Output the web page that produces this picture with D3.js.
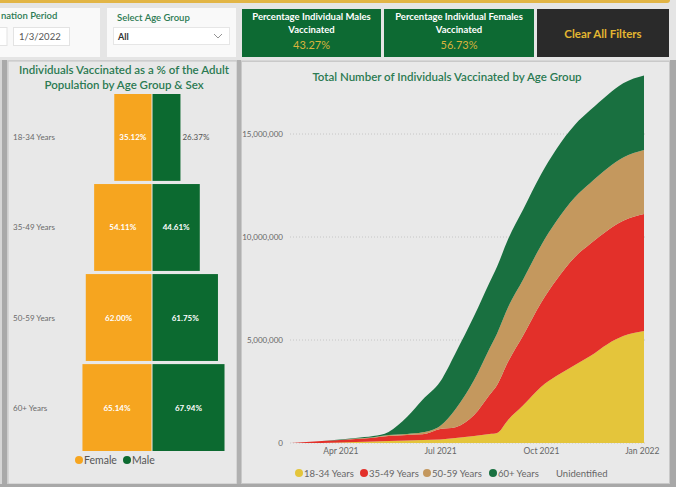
<!DOCTYPE html>
<html><head><meta charset="utf-8">
<script src="https://cdn.jsdelivr.net/npm/d3@7"></script>
<style>
html,body{margin:0;padding:0;background:#e5e5e5;}
svg{display:block;font-family:"Lato","Open Sans",sans-serif;}
</style></head><body>
<svg id="c" width="676" height="487"></svg>
<script>
// ---------- data ----------
const ageGroups = ["18-34 Years", "35-49 Years", "50-59 Years", "60+ Years"];
const femalePct = [35.12, 54.11, 62.00, 65.14];
const malePct = [26.37, 44.61, 61.75, 67.94];
const sexes = ["Female", "Male"];

const kpiTitles = [["Percentage Individual Males", "Vaccinated"], ["Percentage Individual Females", "Vaccinated"]];
const kpiValues = ["43.27%", "56.73%"];

const dates = ["2021-02-15","2021-03-01","2021-03-15","2021-04-01","2021-04-15","2021-05-01","2021-05-15",
  "2021-06-01","2021-06-15","2021-07-01","2021-07-15","2021-08-01","2021-08-15","2021-08-22","2021-09-01",
  "2021-09-15","2021-10-01","2021-10-15","2021-11-01","2021-11-15","2021-12-01","2021-12-15","2022-01-03"];
const vac18_34 = [0,0,0,24000,50000,70000,100000,120000,150000,170000,240000,340000,440000,490000,1120000,
  1840000,2720000,3250000,3790000,4220000,4810000,5190000,5440000];
const vac35_49 = [0,50000,100000,120000,150000,190000,240000,270000,270000,510000,530000,1020000,1890000,2330000,2820000,
  3400000,4080000,4660000,5240000,5450000,5520000,5600000,5680000];
const vac50_59 = [0,0,0,0,24000,24000,50000,50000,100000,150000,870000,1700000,2250000,2500000,2650000,
  2720000,2780000,2850000,2900000,2950000,3020000,3070000,3100000];
const vac60plus = [0,0,0,24000,24000,50000,150000,830000,1580000,2140000,2720000,3100000,3200000,3250000,3300000,
  3400000,3450000,3500000,3520000,3540000,3560000,3600000,3620000];
const vacUnidentified = [0,0,0,0,0,0,0,0,0,0,0,0,0,0,0,0,0,0,0,0,0,0,0];
const seriesNames = ["18-34 Years", "35-49 Years", "50-59 Years", "60+ Years", "Unidentified"];
const yTickValues = [0, 5000000, 10000000, 15000000];
const xTickDates = ["2021-04-01", "2021-07-01", "2021-10-01", "2022-01-01"];

// ---------- style ----------
const C = {
  female: "#f6a51f", male: "#0c6a30", title: "#2b7a52",
  y: "#e4c53b", r: "#e3302a", t: "#c4985e", g: "#197040", u: "#d9d9d9",
  kpi: "#0d6a33", gold: "#d9b33c"
};
const svg = d3.select("#c");

// ---------- top strip ----------
svg.append("rect").attr("x", -5).attr("y", -5).attr("width", 675).attr("height", 8).attr("rx", 3).attr("fill", "#e2b545");

// date slicer panel
svg.append("rect").attr("x", -2).attr("y", 8).attr("width", 102).attr("height", 49).attr("fill", "#f9f9f9");
svg.append("text").attr("x", 1).attr("y", 19).attr("font-size", 9.5).attr("fill", C.title).attr("font-weight", 600).text("nation Period");
svg.append("rect").attr("x", -3).attr("y", 27.5).attr("width", 10).attr("height", 18).attr("fill", "#fff").attr("stroke", "#e3e3e3");
svg.append("rect").attr("x", 13.5).attr("y", 27.5).attr("width", 56).attr("height", 18).attr("fill", "#fff").attr("stroke", "#e3e3e3");
svg.append("text").attr("x", 19).attr("y", 40).attr("font-size", 9.5).attr("fill", "#555").text("1/3/2022");

// age group slicer panel
svg.append("rect").attr("x", 107).attr("y", 8).attr("width", 129).attr("height", 49).attr("fill", "#f9f9f9");
svg.append("text").attr("x", 117).attr("y", 21).attr("font-size", 9.5).attr("fill", C.title).attr("font-weight", 600).text("Select Age Group");
svg.append("rect").attr("x", 113.5).attr("y", 27.5).attr("width", 116).attr("height", 17).attr("fill", "#fff").attr("stroke", "#e6e6e6");
svg.append("text").attr("x", 118).attr("y", 40).attr("font-size", 9).attr("font-weight", 700).attr("fill", "#333").text("All");
svg.append("path").attr("d", "M214,34 l4,4 l4,-4").attr("fill", "none").attr("stroke", "#888").attr("stroke-width", 0.9);

// KPI cards
const kpiX = [242, 384];
const kpiW = [139, 150];
kpiTitles.forEach((lines, i) => {
  const g = svg.append("g");
  g.append("rect").attr("x", kpiX[i]).attr("y", 9).attr("width", kpiW[i]).attr("height", 48).attr("fill", C.kpi);
  const cx = kpiX[i] + kpiW[i] / 2;
  lines.forEach((t, j) => g.append("text").attr("x", cx).attr("y", 20 + j * 13).attr("text-anchor", "middle")
    .attr("font-size", 9.5).attr("font-weight", 700).attr("fill", "#fff").text(t));
  g.append("text").attr("x", cx).attr("y", 49).attr("text-anchor", "middle").attr("font-size", 11)
    .attr("fill", C.gold).text(kpiValues[i]);
});
svg.append("rect").attr("x", 537).attr("y", 9).attr("width", 132).attr("height", 48).attr("fill", "#2a2a2a");
svg.append("text").attr("x", 603).attr("y", 38).attr("text-anchor", "middle").attr("font-size", 11.5)
  .attr("font-weight", 700).attr("fill", "#e3b631").text("Clear All Filters");

// ---------- panel frames ----------
svg.append("rect").attr("x", 0).attr("y", 60).attr("width", 676).attr("height", 427).attr("fill", "#d6d6d6");
svg.append("rect").attr("x", 2).attr("y", 60).attr("width", 5).attr("height", 427).attr("fill", "#a9a9a9");
svg.append("rect").attr("x", 8).attr("y", 61).attr("width", 229).attr("height", 423).attr("fill", "#e8e8e8").attr("stroke", "#c4c4c4");
svg.append("rect").attr("x", 237).attr("y", 60).attr("width", 4).attr("height", 427).attr("fill", "#b0b0b0");
svg.append("rect").attr("x", 241.5).attr("y", 61.5).attr("width", 428).attr("height", 422).attr("fill", "#e9e9e9").attr("stroke", "#c9c9c9");
svg.append("rect").attr("x", 670).attr("y", 60).attr("width", 6).attr("height", 427).attr("fill", "#a8a8a8");
svg.append("rect").attr("x", 0).attr("y", 484).attr("width", 676).attr("height", 3).attr("fill", "#a8a8a8");

// ---------- left chart: population pyramid ----------
svg.append("text").attr("x", 124).attr("y", 74).attr("text-anchor", "middle").attr("font-size", 11.5)
  .attr("font-weight", 600).attr("fill", C.title).text("Individuals Vaccinated as a % of the Adult");
svg.append("text").attr("x", 124).attr("y", 89).attr("text-anchor", "middle").attr("font-size", 11.5)
  .attr("font-weight", 600).attr("fill", C.title).text("Population by Age Group & Sex");

const yBand = d3.scaleBand().domain(ageGroups).range([94, 451]).paddingInner(0.035).paddingOuter(0);
const xPct = d3.scaleLinear().domain([0, 100]).range([0, 106]);
const cxL = 151.5;
const pyr = ageGroups.map((a, i) => ({ a, f: femalePct[i], m: malePct[i] }));
const lg = svg.append("g");
lg.selectAll(".fb").data(pyr).join("rect").attr("x", d => cxL - xPct(d.f)).attr("y", d => yBand(d.a))
  .attr("width", d => xPct(d.f)).attr("height", yBand.bandwidth()).attr("fill", C.female);
lg.selectAll(".mb").data(pyr).join("rect").attr("x", cxL + 1).attr("y", d => yBand(d.a))
  .attr("width", d => xPct(d.m)).attr("height", yBand.bandwidth()).attr("fill", C.male);
const fmt = d => d.toFixed(2) + "%";
lg.selectAll(".fl").data(pyr).join("text").attr("x", d => cxL - xPct(d.f) / 2).attr("y", d => yBand(d.a) + yBand.bandwidth() / 2 + 3)
  .attr("text-anchor", "middle").attr("font-size", 8).attr("font-weight", 700).attr("fill", "#fff").text(d => fmt(d.f));
lg.selectAll(".ml").data(pyr).join("text")
  .attr("x", d => xPct(d.m) < 34 ? cxL + 1 + xPct(d.m) + 2 : cxL + 1 + xPct(d.m) / 2)
  .attr("y", d => yBand(d.a) + yBand.bandwidth() / 2 + 3)
  .attr("text-anchor", d => xPct(d.m) < 34 ? "start" : "middle").attr("font-size", 8)
  .attr("font-weight", d => xPct(d.m) < 34 ? 400 : 700)
  .attr("fill", d => xPct(d.m) < 34 ? "#555" : "#fff").text(d => fmt(d.m));
lg.selectAll(".cl").data(pyr).join("text").attr("x", 13).attr("y", d => yBand(d.a) + yBand.bandwidth() / 2 + 3)
  .attr("font-size", 8).attr("fill", "#6a6a6a").text(d => d.a);
// legend
const legL = [{ n: sexes[0], c: C.female, x: 79 }, { n: sexes[1], c: C.male, x: 127 }];
legL.forEach(d => {
  svg.append("circle").attr("cx", d.x).attr("cy", 460).attr("r", 4).attr("fill", d.c);
  svg.append("text").attr("x", d.x + 5).attr("y", 464).attr("font-size", 10.5).attr("fill", "#555").text(d.n);
});

// ---------- right chart: stacked area ----------
svg.append("text").attr("x", 447).attr("y", 81).attr("text-anchor", "middle").attr("font-size", 11.5)
  .attr("font-weight", 600).attr("fill", C.title).text("Total Number of Individuals Vaccinated by Age Group");

const parse = d3.timeParse("%Y-%m-%d");
const rows = dates.map((d, i) => ({
  date: parse(d), "18-34 Years": vac18_34[i], "35-49 Years": vac35_49[i], "50-59 Years": vac50_59[i],
  "60+ Years": vac60plus[i], "Unidentified": vacUnidentified[i]
}));
const x = d3.scaleTime().domain([parse(dates[0]), parse(dates[dates.length - 1])]).range([291, 644]);
const y = d3.scaleLinear().domain([0, 18000000]).range([443, 443 - 18 * 20.6]);
const colors = [C.y, C.r, C.t, C.g, C.u];

// gridlines
svg.append("g").selectAll("line").data(yTickValues).join("line")
  .attr("x1", 290).attr("x2", 646).attr("y1", d => y(d)).attr("y2", d => y(d))
  .attr("stroke", "#c6c6c6").attr("stroke-dasharray", "1,2");

const stack = d3.stack().keys(seriesNames)(rows);
const area = d3.area().x(d => x(d.data.date)).y0(d => y(d[0])).y1(d => y(d[1])).curve(d3.curveMonotoneX);
svg.append("g").selectAll("path").data(stack).join("path").attr("d", area).attr("fill", (d, i) => colors[i]);

// axes
const yAxis = d3.axisLeft(y).tickValues(yTickValues).tickFormat(d3.format(",")).tickSize(0).tickPadding(0);
const ya = svg.append("g").attr("transform", "translate(283,0)").call(yAxis);
ya.select(".domain").remove();
ya.selectAll("text").attr("font-size", 8).attr("fill", "#666").attr("font-family", "Lato, 'Open Sans', sans-serif");

const xAxis = d3.axisBottom(x).tickValues(xTickDates.map(parse)).tickFormat(d3.timeFormat("%b %Y")).tickSize(0).tickPadding(0);
const xa = svg.append("g").attr("transform", "translate(0,448)").call(xAxis);
xa.select(".domain").remove();
xa.selectAll("text").attr("font-size", 8.5).attr("fill", "#666").attr("font-family", "Lato, 'Open Sans', sans-serif");

// legend
const legR = [
  { n: seriesNames[0], c: C.y, x: 299 }, { n: seriesNames[1], c: C.r, x: 364 },
  { n: seriesNames[2], c: C.t, x: 427 }, { n: seriesNames[3], c: C.g, x: 493 },
  { n: seriesNames[4], c: "none", x: 551 }
];
legR.forEach(d => {
  svg.append("circle").attr("cx", d.x).attr("cy", 473).attr("r", 4).attr("fill", d.c);
  svg.append("text").attr("x", d.x + 5).attr("y", 476.5).attr("font-size", 9.5).attr("fill", "#666").text(d.n);
});
</script>
</body></html>
